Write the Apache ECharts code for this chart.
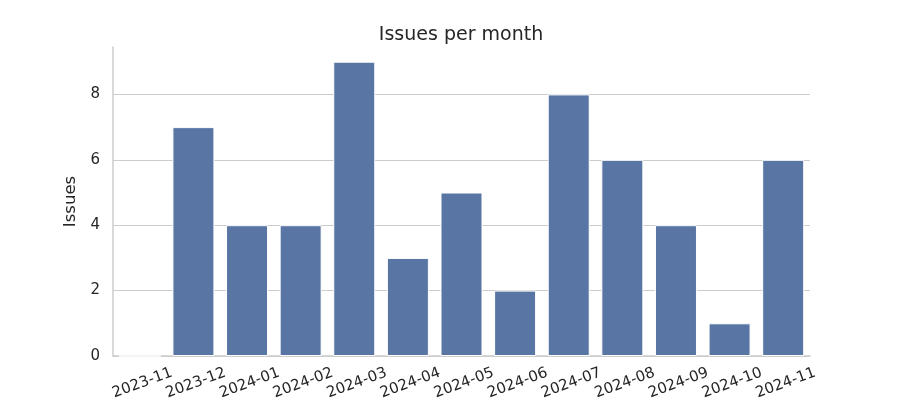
<!DOCTYPE html>
<html><head><meta charset="utf-8">
<script src="https://cdn.jsdelivr.net/npm/echarts@6/dist/echarts.min.js"></script>
<style>html,body{margin:0;padding:0;background:#fff}#c{width:900px;height:400px}</style>
</head><body><div id="c"></div>
<script>
const categories = ['2023-11','2023-12','2024-01','2024-02','2024-03','2024-04','2024-05','2024-06','2024-07','2024-08','2024-09','2024-10','2024-11'];
const issues = [0,7,4,4,9,3,5,2,8,6,4,1,6];
const yTicks = [0,2,4,6,8];
const chart = echarts.init(document.getElementById('c'), null, {renderer:'canvas'});
chart.setOption({
  animation:false,
  backgroundColor:'#ffffff',
  textStyle:{fontFamily:'DejaVu Sans'},
  graphic:[{type:'text', x:461, y:35,
    style:{text:'Issues per month', x:0, y:0, align:'center', verticalAlign:'middle',
      fontFamily:'DejaVu Sans', fontSize:19, fill:'#262626'}}],
  grid:{left:113, right:90, top:47, bottom:44, containLabel:false, outerBoundsMode:'none'},
  xAxis:{type:'category', data:categories, boundaryGap:true,
    axisLine:{show:true, lineStyle:{color:'#cccccc', width:1.5}},
    axisTick:{show:false},
    axisLabel:{rotate:20, interval:0, fontSize:15, color:'#262626', margin:20, align:'center', verticalAlign:'top', fontFamily:'DejaVu Sans'}},
  yAxis:{type:'value', min:0, max:9.45, interval:2,
    name:'Issues', nameLocation:'middle', nameGap:26, nameRotate:90,
    nameTextStyle:{fontSize:16.5, color:'#262626', fontFamily:'DejaVu Sans'},
    axisLine:{show:true, lineStyle:{color:'#cccccc', width:1.5}},
    axisTick:{show:false},
    axisLabel:{fontSize:15, color:'#262626', margin:13, fontFamily:'DejaVu Sans',
      showMaxLabel:false,
      formatter:function(v){return yTicks.indexOf(v)>=0? String(v):'';}},
    splitLine:{show:true, showMaxLine:false, lineStyle:{color:'#cccccc', width:1.2}}},
  series:[{type:'bar', data:issues, barWidth:42,
    itemStyle:{color:'#5975a4', borderColor:'#ffffff', borderWidth:1}}]
});
</script></body></html>
